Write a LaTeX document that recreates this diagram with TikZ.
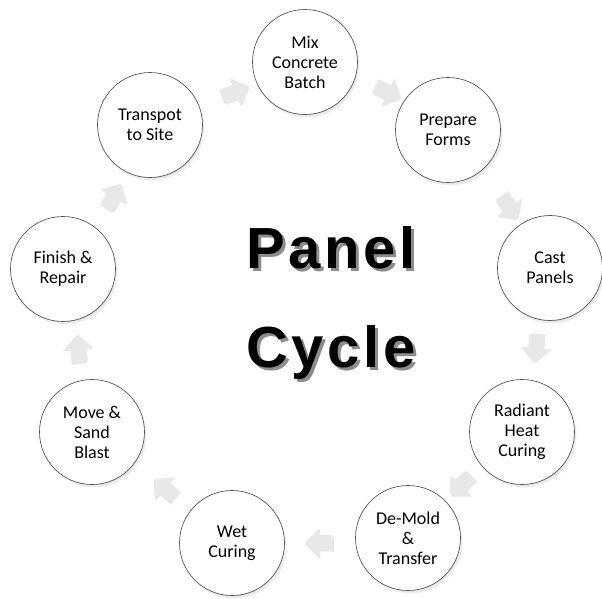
\documentclass[tikz,border=0pt]{standalone}
\usepackage{fontspec}
\setmainfont{Carlito}
\newfontfamily\titlefont[LetterSpace=6]{Liberation Sans}
\definecolor{ringline}{HTML}{5A5A5A}
\definecolor{arrowfill}{HTML}{E8E8E8}
\begin{document}
\begin{tikzpicture}[x=1pt,y=-1pt,
  stage/.style={circle, draw=ringline, line width=0.7pt, fill=white,
    minimum size=105pt, inner sep=0pt, align=center,
    font=\fontsize{18}{20}\selectfont},
  stageshadow/.style={circle, fill=black, opacity=0.07, minimum size=105pt, inner sep=0pt},
  cycarrow/.pic={
    \fill[black,opacity=0.08] (-12,-5)--(1,-5)--(1,-12)--(15,2)--(1,16)--(1,9)--(-12,9)--cycle;
    \fill[arrowfill] (-14,-7.5)--(0,-7.5)--(0,-15)--(15,0)--(0,15)--(0,7.5)--(-14,7.5)--cycle;
  },
  title/.style={font=\titlefont\bfseries\fontsize{58}{58}\selectfont, inner sep=0pt, anchor=base}
]
\useasboundingbox (0,0) rectangle (602,598);

% circle shadows
\foreach \cx/\cy [count=\i] in {305/62,448/130,550/268,522/432,408/538,232/543,92/432,63/269,150/125}{
  \node[stageshadow] (sa\i) at (\cx+2,\cy+3) {};
  \node[stageshadow,minimum size=103pt] (sb\i) at (\cx+1,\cy+2) {};
}

\node[stage] (mix) at (305,62) {Mix\\Concrete\\Batch};
\node[stage] (prep) at (448,130) {Prepare\\Forms};
\node[stage] (cast) at (550,268) {Cast\\Panels};
\node[stage] (rad) at (522,432) {Radiant\\Heat\\Curing};
\node[stage] (demold) at (408,538) {De-Mold\\\&\\Transfer};
\node[stage] (wet) at (232,543) {Wet\\Curing};
\node[stage] (move) at (92,432) {Move \&\\Sand\\Blast};
\node[stage] (fin) at (63,269) {Finish \&\\Repair};
\node[stage] (trans) at (150,125) {Transpot\\to Site};

% cycle arrows
\pic[rotate=22] at (235,92) {cycarrow};
\pic[rotate=-25] at (388,92) {cycarrow};
\pic[rotate=-55] at (510,207) {cycarrow};
\pic[rotate=-95] at (537,348) {cycarrow};
\pic[rotate=-135] at (462,486) {cycarrow};
\pic[rotate=180] at (320,544) {cycarrow};
\pic[rotate=140] at (165,490) {cycarrow};
\pic[rotate=95] at (78,350) {cycarrow};
\pic[rotate=60] at (113,197) {cycarrow};

% title
\node[title, text=black!45] (t1s) at (334,271) {Panel};
\node[title] (t1) at (331,268) {Panel};
\node[title, text=black!45] (t2s) at (334,370) {Cycle};
\node[title] (t2) at (331,367) {Cycle};
\end{tikzpicture}
\end{document}
